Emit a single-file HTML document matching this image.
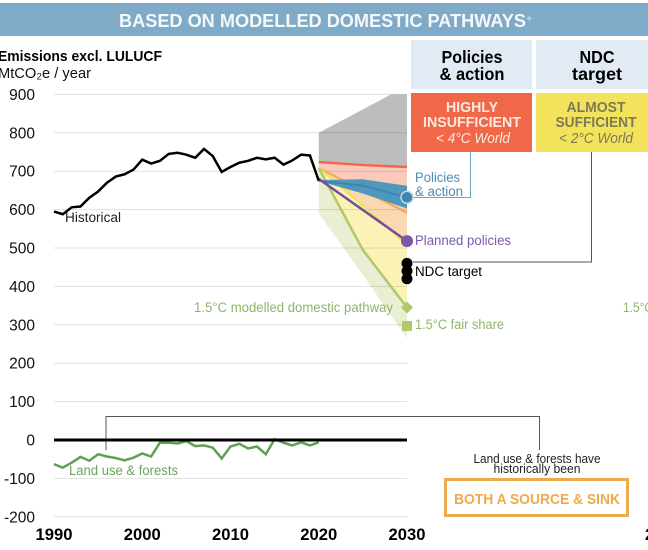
<!DOCTYPE html>
<html lang="en">
<head>
<meta charset="utf-8">
<title>Emissions based on modelled domestic pathways</title>
<style>
html,body{margin:0;padding:0;background:#fff;width:648px;height:550px;overflow:hidden}
svg{display:block;font-family:"Liberation Sans",sans-serif}
.b{font-family:"Liberation Sans",sans-serif;font-weight:700}
</style>
</head>
<body>
<svg id="chart" width="648" height="550" viewBox="0 0 648 550" xmlns="http://www.w3.org/2000/svg">
  <rect x="0" y="3" width="648" height="33" fill="#7fabc9"/>
  <text class="b" x="119" y="27" font-size="18.5" fill="#f4f8fb" textLength="407" lengthAdjust="spacingAndGlyphs">BASED ON MODELLED DOMESTIC PATHWAYS</text>
  <text x="526" y="22" font-size="11" fill="#dce8f0">+</text>

  <rect x="411" y="40" width="121" height="49" fill="#e2ebf3"/>
  <rect x="536" y="40" width="112" height="49" fill="#e2ebf3"/>
  <text class="b" x="472" y="63" text-anchor="middle" font-size="17.5" fill="#000" textLength="61" lengthAdjust="spacingAndGlyphs">Policies</text>
  <text class="b" x="472" y="80" text-anchor="middle" font-size="17.5" fill="#000" textLength="65" lengthAdjust="spacingAndGlyphs">&amp; action</text>
  <text class="b" x="597" y="63" text-anchor="middle" font-size="17.5" fill="#000" textLength="35" lengthAdjust="spacingAndGlyphs">NDC</text>
  <text class="b" x="597" y="80" text-anchor="middle" font-size="17.5" fill="#000" textLength="50" lengthAdjust="spacingAndGlyphs">target</text>

  <rect x="411" y="93" width="121" height="59" fill="#f16849"/>
  <rect x="536" y="93" width="112" height="59" fill="#f3e35c"/>
  <text class="b" x="472" y="112" text-anchor="middle" font-size="15" fill="#fde9df" textLength="52" lengthAdjust="spacingAndGlyphs">HIGHLY</text>
  <text class="b" x="472" y="127" text-anchor="middle" font-size="15" fill="#fde9df" textLength="98" lengthAdjust="spacingAndGlyphs">INSUFFICIENT</text>
  <text x="473" y="143" text-anchor="middle" font-size="15" font-style="italic" fill="#fde9df" textLength="74" lengthAdjust="spacingAndGlyphs">&lt; 4°C World</text>
  <text class="b" x="596" y="112" text-anchor="middle" font-size="15" fill="#7d7a55" textLength="59" lengthAdjust="spacingAndGlyphs">ALMOST</text>
  <text class="b" x="596" y="127" text-anchor="middle" font-size="15" fill="#7d7a55" textLength="81" lengthAdjust="spacingAndGlyphs">SUFFICIENT</text>
  <text x="596" y="143" text-anchor="middle" font-size="15" font-style="italic" fill="#7d7a55" textLength="74" lengthAdjust="spacingAndGlyphs">&lt; 2°C World</text>

  <text class="b" x="-2" y="61" font-size="15" fill="#000" textLength="164" lengthAdjust="spacingAndGlyphs">Emissions excl. LULUCF</text>
  <text x="-2" y="78" font-size="15" fill="#111" textLength="93" lengthAdjust="spacingAndGlyphs">MtCO₂e / year</text>

  <g id="bands"></g>
  <g id="grid"></g>
  <g id="yticks"></g>
  <g id="xticks"></g>

  <path d="M470.5 152V197.5H413" fill="none" stroke="#6ea3c4" stroke-width="1"/>
  <path d="M591.5 152V262H413" fill="none" stroke="#555" stroke-width="1"/>
  <path d="M106 450V416.5H539.5V450" fill="none" stroke="#555" stroke-width="1"/>

  <g id="lines"></g>
  <g id="markers"></g>

  <text x="65" y="222" font-size="13.5" fill="#222" textLength="56" lengthAdjust="spacingAndGlyphs">Historical</text>
  <text x="69" y="475" font-size="13.5" fill="#6aa45c" textLength="109" lengthAdjust="spacingAndGlyphs">Land use &amp; forests</text>
  <text x="415" y="182" font-size="13.5" fill="#4d8bb0" textLength="45" lengthAdjust="spacingAndGlyphs">Policies</text>
  <text x="415" y="196" font-size="13.5" fill="#4d8bb0" textLength="48" lengthAdjust="spacingAndGlyphs">&amp; action</text>
  <text x="415" y="245" font-size="13.5" fill="#7a5ba8" textLength="96" lengthAdjust="spacingAndGlyphs">Planned policies</text>
  <text x="415" y="276" font-size="13.5" fill="#000" textLength="67" lengthAdjust="spacingAndGlyphs">NDC target</text>
  <text x="194" y="312" font-size="13.5" fill="#8fb56a" textLength="199" lengthAdjust="spacingAndGlyphs">1.5°C modelled domestic pathway</text>
  <text x="415" y="329" font-size="13.5" fill="#8fb56a" textLength="89" lengthAdjust="spacingAndGlyphs">1.5°C fair share</text>
  <text x="623" y="312" font-size="13.5" fill="#8fb56a" textLength="30" lengthAdjust="spacingAndGlyphs">1.5°C</text>

  <text x="537" y="463" text-anchor="middle" font-size="12.5" fill="#222" textLength="127" lengthAdjust="spacingAndGlyphs">Land use &amp; forests have</text>
  <text x="537" y="473" text-anchor="middle" font-size="12.5" fill="#222" textLength="87" lengthAdjust="spacingAndGlyphs">historically been</text>
  <rect x="445.5" y="479.5" width="182" height="36" fill="#fff" stroke="#eeaa4c" stroke-width="3"/>
  <text class="b" x="537" y="504" text-anchor="middle" font-size="15" fill="#eeaa4c" textLength="166" lengthAdjust="spacingAndGlyphs">BOTH A SOURCE &amp; SINK</text>
  <text class="b" x="645" y="540" font-size="17" fill="#000">2</text>
</svg>
<script>
var yTicks = [900, 800, 700, 600, 500, 400, 300, 200, 100, 0, -100, -200];
var xTicks = [1990, 2000, 2010, 2020, 2030];
var historicalYears = [1990,1991,1992,1993,1994,1995,1996,1997,1998,1999,2000,2001,2002,2003,2004,2005,2006,2007,2008,2009,2010,2011,2012,2013,2014,2015,2016,2017,2018,2019,2020];
var historicalValues = [595,588,606,608,631,647,670,686,692,704,730,720,727,745,748,743,735,758,739,698,711,722,727,735,731,735,717,728,743,741,675];
var landUseValues = [-63,-72,-59,-44,-54,-37,-43,-47,-53,-46,-35,-43,-7,-7,-9,-3,-16,-14,-20,-48,-17,-10,-22,-17,-37,2,-7,-14,-6,-14,-6];
var scenarioYears = [2020, 2025, 2030];
var grayTopYears = [2020, 2028.2, 2030];
var grayTopValues = [800, 900, 900];
var redLineValues = [724, 716, 711];
var orangeLineValues = [708, 650, 592];
var yellowLineValues = [708, 610, 508];
var greenPathValues = [708, 495, 345];
var greenLowerValues = [590, 430, 265];
var blueUpperValues = [677, 679, 662];
var blueLowerValues = [674, 642, 603];
var blueCentreValues = [675, 662, 632];
var plannedValues = [680, 599, 518];
var policiesEnd = 632;
var plannedEnd = 518;
var ndcTargets = [460, 440, 420];
var pathwayEnd = 345;
var fairShareEnd = 297;

var NS = 'http://www.w3.org/2000/svg';
function x(year) { return 54 + (year - 1990) * 8.825; }
function y(value) { return 440 - value * 0.384; }
function make(parent, tag, attrs) {
  var el = document.createElementNS(NS, tag);
  for (var k in attrs) el.setAttribute(k, attrs[k]);
  document.getElementById(parent).appendChild(el);
  return el;
}
function pts(xs, vs) {
  return xs.map(function (t, i) { return x(t).toFixed(2) + ',' + y(vs[i]).toFixed(2); });
}
function bandPoints(topXs, topVs, botXs, botVs) {
  return pts(topXs, topVs).concat(pts(botXs, botVs).reverse()).join(' ');
}

var band;
band = make('bands', 'polygon', {points: bandPoints(grayTopYears, grayTopValues, scenarioYears, redLineValues), fill: '#bdbdbd'});


band = make('bands', 'polygon', {points: bandPoints(scenarioYears, greenPathValues, scenarioYears, greenLowerValues), fill: '#e8efd2'});


band = make('bands', 'polygon', {points: bandPoints(scenarioYears, redLineValues, scenarioYears, orangeLineValues), fill: '#fccabb'});


band = make('bands', 'polygon', {points: bandPoints(scenarioYears, orangeLineValues, scenarioYears, yellowLineValues), fill: '#fad9b0'});


band = make('bands', 'polygon', {points: bandPoints(scenarioYears, yellowLineValues, scenarioYears, greenPathValues), fill: '#fbf3b6'});



yTicks.forEach(function (v) {
  if (v !== 0) {
    var g = make('grid', 'line', {x1: x(1990), x2: x(2030), y1: y(v), y2: y(v), stroke: 'rgba(0,0,0,0.12)', 'stroke-width': 1});
    
    
  }
  var t = make('yticks', 'text', {x: 35, y: y(v) + 5.5, 'text-anchor': 'end', 'font-size': 15.5, fill: '#111'});
  
  
  t.textContent = v;
});
xTicks.forEach(function (v) {
  var t = make('xticks', 'text', {x: x(v), y: 540, 'text-anchor': 'middle', 'font-size': 17, 'font-weight': 700, fill: '#000', textLength: 37, lengthAdjust: 'spacingAndGlyphs'});
  
  
  t.textContent = v;
});

var line;
function poly(xs, vs, color, width) {
  return make('lines', 'polyline', {points: pts(xs, vs).join(' '), fill: 'none', stroke: color, 'stroke-width': width, 'stroke-linejoin': 'miter'});
}
line = poly(scenarioYears, redLineValues, '#ee6a4d', 2.5);


line = poly(scenarioYears, orangeLineValues, '#f0a94e', 2);


line = poly(scenarioYears, yellowLineValues, '#f3e05a', 2);


line = poly(scenarioYears, greenPathValues, '#b2c76c', 2.5);


band = make('lines', 'polygon', {points: bandPoints(scenarioYears, blueUpperValues, scenarioYears, blueLowerValues), fill: '#4f97bd'});


line = poly(scenarioYears, blueCentreValues, '#3f85ad', 2);


line = poly(scenarioYears, plannedValues, '#6f4f9c', 2.5);


line = poly(historicalYears, historicalValues, '#000', 2.5);


line = poly(historicalYears, landUseValues, '#5fa052', 2.5);


line = make('lines', 'line', {x1: x(1990), x2: x(2030), y1: y(0), y2: y(0), stroke: '#000', 'stroke-width': 3});



var m = make('markers', 'circle', {cx: x(2030), cy: y(policiesEnd), r: 6, fill: '#3f85ad', stroke: '#bcd8e8', 'stroke-width': 1.5});


m = make('markers', 'circle', {cx: x(2030), cy: y(plannedEnd), r: 6, fill: '#7a55a8'});


ndcTargets.forEach(function (v) {
  var c = make('markers', 'circle', {cx: x(2030), cy: y(v), r: 5.5, fill: '#000'});
  
  
});
var dx = x(2030), dy = y(pathwayEnd);
m = make('markers', 'polygon', {points: (dx - 6) + ',' + dy + ' ' + dx + ',' + (dy - 6) + ' ' + (dx + 6) + ',' + dy + ' ' + dx + ',' + (dy + 6), fill: '#b2c76c'});


m = make('markers', 'rect', {x: x(2030) - 5, y: y(fairShareEnd) - 5, width: 10, height: 10, fill: '#b2c76c'});


</script>
</body>
</html>
